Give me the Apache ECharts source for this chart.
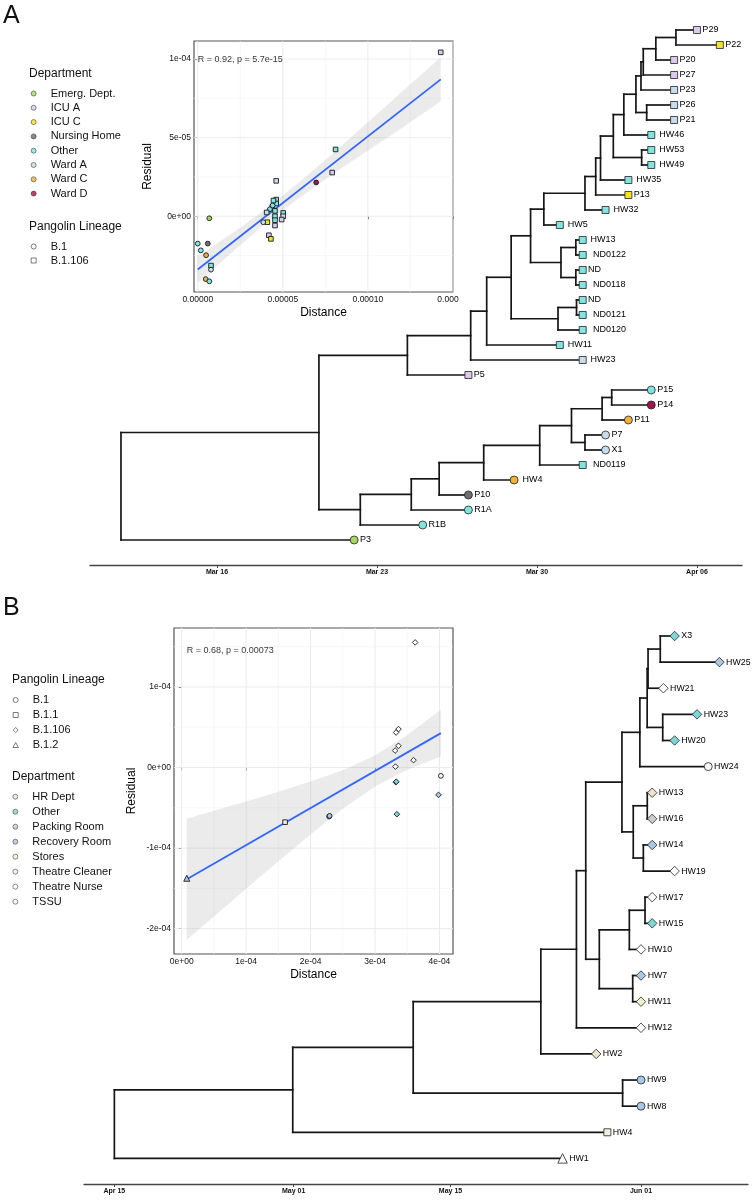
<!DOCTYPE html>
<html><head><meta charset="utf-8">
<script src="https://cdn.jsdelivr.net/npm/echarts@6/dist/echarts.min.js"></script>
<style>html,body{margin:0;padding:0;background:#fff}#c{width:754px;height:1200px}</style>
</head><body><div id="c"></div>
<script>
// ================= DATA: Panel A =================
const tickDaysA = [0, 7, 14, 21];              // days after 16 Mar
const tickLabelsA = ['Mar 16', 'Mar 23', 'Mar 30', 'Apr 06'];
const tipLabelsA = ['P29','P22','P20','P27','P23','P26','P21',' HW46',' HW53',' HW49',' HW35','P13',' HW32',' HW5',' HW13','  ND0122','ND','  ND0118','ND','  ND0121','  ND0120',' HW11',' HW23','P5','P15','P14','P11','P7','X1','  ND0119',' HW4','P10','R1A','R1B','P3'];
const tipDaysA = [21,22,20,20,20,20,20,19,19,19,18,18,17,15,16,16,16,16,16,16,16,15,16,11,19,19,18,17,17,16,13,11,11,9,6];
const tipDeptA = ['ICU A','ICU C','ICU A','ICU A','Ward A','Ward A','Ward A','Other','Other','Other','Other','ICU C','Other','Other','Other','Other','Other','Other','Other','Other','Other','Other','Ward A','ICU A','Other','Ward D','Ward C','Ward A','Ward A','Other','Ward C','Nursing Home','Other','Other','Emerg. Dept.'];
const tipLineageA = ['B.1.106','B.1.106','B.1.106','B.1.106','B.1.106','B.1.106','B.1.106','B.1.106','B.1.106','B.1.106','B.1.106','B.1.106','B.1.106','B.1.106','B.1.106','B.1.106','B.1.106','B.1.106','B.1.106','B.1.106','B.1.106','B.1.106','B.1.106','B.1.106','B.1','B.1','B.1','B.1','B.1','B.1.106','B.1','B.1','B.1','B.1','B.1'];
const nodeNamesA = ['a1','a2','a3','a4','a5','a6','a7','a8','a9','a10','a11','a12','a13','a14','a15','a16','a17','a18','a19','a20','a21','a22','a23','b1','b2','b3','b4','b5','b6','b7','b8','b9','c1','root'];
const nodeChildrenA = [[0,1],['a1',2],['a2',3],['a3',4],[5,6],['a4','a5'],['a6',7],[8,9],['a7','a8'],['a9',10],['a10',11],['a11',12],['a12',13],[14,15],[16,17],['a14','a15'],['a13','a16'],[18,19],['a18',20],['a17','a19'],['a20',21],['a21',22],['a22',23],[24,25],['b1',26],[27,28],['b2','b3'],['b4',29],['b5',30],['b6',31],['b7',32],['b8',33],['a23','b9'],['c1',34]];
const nodeDaysA = [20.08,19.2,18.65,18.55,18.8,18.33,17.8,18.58,17.34,16.78,16.57,16.1,14.3,15.7,15.7,15.05,13.72,15.73,14.92,12.87,11.8,11.1,8.33,17.27,16.85,16.1,15.51,14.12,11.67,9.72,8.5,6.27,4.46,-4.2];

const deptNamesA = ['Emerg. Dept.','ICU A','ICU C','Nursing Home','Other','Ward A','Ward C','Ward D'];
const lineageNamesA = ['B.1','B.1.106'];

const scatterDistA = [1.428e-4,8.1e-5,7.9e-5,6.96e-5,4.61e-5,4.61e-5,4.61e-5,4.38e-5,4.24e-5,4.05e-5,4.54e-5,5.02e-5,5.02e-5,4.93e-5,4.54e-5,4.54e-5,4.54e-5,4.09e-5,3.85e-5,4.18e-5,4.3e-5,6.8e-6,0,5.9e-6,1.8e-6,4.9e-6,7.8e-6,7.8e-6,4.7e-6,6.8e-6,4.4e-5,4.45e-5];
const scatterResA = [1.043e-4,4.25e-5,2.78e-5,2.15e-5,2.25e-5,1.06e-5,8.1e-6,5.9e-6,4.5e-6,2.4e-6,3.4e-6,2.1e-6,0,-2.1e-6,0,-2.5e-6,-5.9e-6,-3.8e-6,-3.8e-6,-1.21e-5,-1.44e-5,-1.3e-6,-1.74e-5,-1.74e-5,-2.17e-5,-2.48e-5,-3.14e-5,-3.4e-5,-4.0e-5,-4.14e-5,6.9e-6,1.0e-5];
const scatterDeptA = ['ICU A','Other','ICU A','Ward D','Ward A','Other','Other','Other','Other','Ward A','Other','Other','Ward A','ICU A','Other','Other','ICU A','ICU C','Ward A','ICU A','ICU C','Emerg. Dept.','Other','Nursing Home','Other','Ward C','Other','Ward A','Ward C','Other','Other','Other'];
const scatterLineageA = ['B.1.106','B.1.106','B.1.106','B.1','B.1.106','B.1.106','B.1.106','B.1.106','B.1','B.1.106','B.1.106','B.1.106','B.1.106','B.1.106','B.1.106','B.1.106','B.1.106','B.1.106','B.1','B.1.106','B.1.106','B.1','B.1','B.1','B.1','B.1','B.1.106','B.1','B.1','B.1','B.1','B.1.106'];
const fitA = [[0, -3.39e-5], [1.428e-4, 8.71e-5]];
const bandXA = [0, 2e-5, 4e-5, 6e-5, 8e-5, 1e-4, 1.2e-4, 1.428e-4];
const bandLowA = [-4.24e-5, -2.3e-5, -4.5e-6, 1.19e-5, 2.74e-5, 4.18e-5, 5.62e-5, 7.31e-5];
const bandHighA = [-2.54e-5, -1.1e-5, 4.5e-6, 2.19e-5, 4.04e-5, 5.98e-5, 7.92e-5, 1.011e-4];
const ticksXA = [0, 5e-5, 1e-4, 1.5e-4];
const tickLabelsXA = ['0.00000', '0.00005', '0.00010', '0.000'];
const ticksYA = [0, 5e-5, 1e-4];
const tickLabelsYA = ['0e+00', '5e-05', '1e-04'];
const minorXA = [2.5e-5, 7.5e-5, 1.25e-4];
const minorYA = [-2.5e-5, 2.5e-5, 7.5e-5];
const annotA = {text: 'R = 0.92, p = 5.7e-15', x: 0, y: 1.0e-4};

// ================= DATA: Panel B =================
const tickDaysB = [0, 16, 30, 47];             // days after 15 Apr
const tickLabelsB = ['Apr 15', 'May 01', 'May 15', 'Jun 01'];
const tipLabelsB = ['X3','HW25','HW21','HW23','HW20','HW24','HW13','HW16','HW14','HW19','HW17','HW15','HW10','HW7','HW11','HW12','HW2','HW9','HW8','HW4','HW1'];
const tipDaysB = [50,54,49,52,50,53,48,48,48,50,48,48,47,47,47,47,43,47,47,44,40];
const tipDeptB = ['Other','Recovery Room','Theatre Nurse','Other','Other','TSSU','HR Dept','Packing Room','Recovery Room','Theatre Nurse','Theatre Nurse','Other','Theatre Nurse','Recovery Room','Stores','Theatre Nurse','HR Dept','Recovery Room','Recovery Room','Theatre Cleaner','Theatre Nurse'];
const tipLineageB = ['B.1.106','B.1.106','B.1.106','B.1.106','B.1.106','B.1','B.1.106','B.1.106','B.1.106','B.1.106','B.1.106','B.1.106','B.1.106','B.1.106','B.1.106','B.1.106','B.1.106','B.1','B.1','B.1.1','B.1.2'];
const nodeNamesB = ['n1','n2','n3','n4','n5','n6','n7','n8','n9','n10','n11','n12','n13','n14','n15','n16','n17','n18','n19','root'];
const nodeChildrenB = [[0,1],['n1',2],[3,4],['n2','n3'],['n4',5],[6,7],[8,9],['n6','n7'],['n5','n8'],[10,11],['n10',12],[13,14],['n11','n12'],['n9','n13'],['n14',15],['n15',16],[17,18],['n16','n17'],['n18',19],['n19',20]];
const nodeDaysB = [48.72,47.63,48.94,47.55,46.9,47.56,47.21,46.31,45.3,47.36,45.96,46.26,43.28,42.07,41.24,38.06,45.36,26.67,15.92,0];

const deptNamesB = ['HR Dept','Other','Packing Room','Recovery Room','Stores','Theatre Cleaner','Theatre Nurse','TSSU'];
const lineageNamesB = ['B.1','B.1.1','B.1.106','B.1.2'];

const scatterDistB = [7.8e-6,1.604e-4,2.287e-4,2.295e-4,3.623e-4,3.364e-4,3.327e-4,3.364e-4,3.312e-4,3.317e-4,3.597e-4,4.022e-4,3.323e-4,3.33e-4,3.985e-4,3.339e-4];
const scatterResB = [-1.374e-4,-6.78e-5,-6.08e-5,-6.0e-5,1.553e-4,4.77e-5,4.35e-5,2.7e-5,2.11e-5,1.2e-6,9.2e-6,-1.03e-5,-1.82e-5,-1.76e-5,-3.39e-5,-5.79e-5];
const scatterDeptB = ['Recovery Room','Theatre Cleaner','Recovery Room','Recovery Room','Theatre Nurse','Theatre Nurse','Theatre Nurse','Theatre Nurse','Theatre Nurse','Theatre Nurse','Theatre Nurse','TSSU','Other','Other','Recovery Room','Other'];
const scatterLineageB = ['B.1.2','B.1.1','B.1','B.1','B.1.106','B.1.106','B.1.106','B.1.106','B.1.106','B.1.106','B.1.106','B.1','B.1.106','B.1.106','B.1.106','B.1.106'];
const fitB = [[7.8e-6, -1.386e-4], [4.022e-4, 4.27e-5]];
const bandXB = [7.8e-6, 5e-5, 1e-4, 1.5e-4, 2e-4, 2.5e-4, 3e-4, 3.5e-4, 4.022e-4];
const bandLowB = [-2.136e-4, -1.849e-4, -1.504e-4, -1.164e-4, -8.3e-5, -5.12e-5, -2.35e-5, -2.7e-6, 1.37e-5];
const bandHighB = [-6.36e-5, -5.35e-5, -4.2e-5, -3.0e-5, -1.74e-5, -3.2e-6, 1.51e-5, 4.03e-5, 7.17e-5];
const ticksXB = [0, 1e-4, 2e-4, 3e-4, 4e-4];
const tickLabelsXB = ['0e+00', '1e-04', '2e-04', '3e-04', '4e-04'];
const ticksYB = [-2e-4, -1e-4, 0, 1e-4];
const tickLabelsYB = ['-2e-04', '-1e-04', '0e+00', '1e-04'];
const minorXB = [5e-5, 1.5e-4, 2.5e-4, 3.5e-4];
const minorYB = [-1.5e-4, -5e-5, 5e-5, 1.5e-4];
const annotB = {text: 'R = 0.68, p = 0.00073', x: 7.8e-6, y: 1.453e-4};

// ================= STYLE =================
const FONT = 'Liberation Sans';
const deptColorA = {'Emerg. Dept.':'#A5D75F','ICU A':'#DCCAEC','ICU C':'#F3E421','Nursing Home':'#6F6F6F','Other':'#82E4E0','Ward A':'#C8DCEC','Ward C':'#F0B23C','Ward D':'#A3134F'};
const deptColorB = {'HR Dept':'#ECE3CB','Other':'#7ED6D6','Packing Room':'#CDCDCD','Recovery Room':'#A9C8E6','Stores':'#EEF1CE','Theatre Cleaner':'#F1EDE0','Theatre Nurse':'#FFFFFF','TSSU':'#F7F7F7'};
const shapeOf = {'B.1':'circle','B.1.1':'rect','B.1.106':'rect','B.1.2':'triangle'};
const shapeOfB = {'B.1':'circle','B.1.1':'rect','B.1.106':'diamond','B.1.2':'triangle'};
const iconOf = {
  circle: 'circle',
  rect: 'path://M0,0L10,0L10,10L0,10Z',
  diamond: 'path://M5,0L10,5L5,10L0,5Z',
  triangle: 'path://M5,0L10,9L0,9Z'
};
const treeSize = {circle: 8, rect: 7, diamond: 9.5, triangle: 9.5};
const insetSize = {circle: 4.8, rect: 4.6, diamond: 5.6, triangle: 6};

// ================= HELPERS =================
function layoutTree(tipDays, nodeNames, nodeChildren, nodeDays) {
  const pos = {};
  tipDays.forEach((d, i) => { pos[i] = [d, i]; });
  const segs = [];
  nodeNames.forEach((nm, k) => {
    const ch = nodeChildren[k].map(c => pos[c]);
    const x = nodeDays[k];
    const ys = ch.map(p => p[1]);
    pos[nm] = [x, ys.reduce((a, b) => a + b, 0) / ys.length];
    segs.push([x, Math.min(...ys), x, Math.max(...ys)]);
    ch.forEach(p => segs.push([x, p[1], p[0], p[1]]));
  });
  return segs;
}
function edgeSeries(segs, gi) {
  return {
    type: 'custom', xAxisIndex: gi, yAxisIndex: gi, data: segs, silent: true, z: 2,
    encode: {x: [0, 2], y: [1, 3]},
    renderItem(params, api) {
      const p1 = api.coord([api.value(0), api.value(1)]);
      const p2 = api.coord([api.value(2), api.value(3)]);
      return {type: 'line', shape: {x1: p1[0], y1: p1[1], x2: p2[0], y2: p2[1]},
        style: {stroke: '#161616', lineWidth: 1.7, lineCap: 'square'}};
    }
  };
}
function tipSeries(labels, days, depts, lins, palette, shapes, gi, fs) {
  return {
    type: 'scatter', xAxisIndex: gi, yAxisIndex: gi, z: 4, silent: true,
    data: labels.map((lab, i) => {
      const sh = shapes[lins[i]];
      return {name: lab, value: [days[i], i], symbol: sh, symbolSize: treeSize[sh],
        itemStyle: {color: palette[depts[i]], borderColor: '#222', borderWidth: 0.8, opacity: 1}};
    }),
    label: {show: true, position: 'right', distance: 1.5, formatter: p => p.name,
      fontFamily: FONT, fontSize: fs, color: '#000'}
  };
}
function dateAxis(gi, min, max, ticks, labels) {
  return {
    gridIndex: gi, type: 'value', min, max,
    axisLine: {show: true, onZero: false, lineStyle: {color: '#444', width: 1.3}},
    axisTick: {show: true, customValues: ticks, length: 3, lineStyle: {color: '#444', width: 1}},
    axisLabel: {customValues: ticks, margin: 4, fontFamily: FONT, fontSize: 7, fontWeight: 'bold', color: '#111',
      formatter: v => labels[ticks.findIndex(t => Math.abs(t - v) < 1e-9)]},
    splitLine: {show: false}
  };
}
function findLabel(ticks, labels, v) {
  const i = ticks.findIndex(t => Math.abs(t - v) < 1e-12);
  return i < 0 ? '' : labels[i];
}
function insetAxis(gi, min, max, ticks, labels, name, gap, clipLast) {
  return {
    gridIndex: gi, type: 'value', min, max,
    axisLine: {show: false},
    axisTick: {show: true, customValues: ticks, length: 3, lineStyle: {color: '#333', width: 1}},
    axisLabel: {customValues: ticks, margin: 3, fontFamily: FONT, fontSize: 8.5, color: '#111',
      formatter: v => {
        const s = findLabel(ticks, labels, v);
        return (clipLast && Math.abs(v - ticks[ticks.length - 1]) < 1e-12) ? '{c|' + s + '}' : s;
      },
      rich: {c: {fontFamily: FONT, fontSize: 8.5, color: '#111', padding: [0, 10, 0, 0]}}},
    splitLine: {show: false},
    name, nameLocation: 'middle', nameGap: gap,
    nameTextStyle: {fontFamily: FONT, fontSize: 12, color: '#000'}
  };
}
function gridLineSeries(gi, majX, minX, majY, minY) {
  const data = [];
  majX.forEach(v => data.push([v, 0, 1]));
  minX.forEach(v => data.push([v, 0, 0]));
  majY.forEach(v => data.push([v, 1, 1]));
  minY.forEach(v => data.push([v, 1, 0]));
  return {
    type: 'custom', xAxisIndex: gi, yAxisIndex: gi, data, silent: true, z: 1,
    renderItem(params, api) {
      const cs = params.coordSys;
      const v = api.value(0), dir = api.value(1), major = api.value(2);
      let shape;
      if (dir === 0) {
        const px = api.coord([v, 0])[0];
        shape = {x1: px, y1: cs.y, x2: px, y2: cs.y + cs.height};
      } else {
        const py = api.coord([0, v])[1];
        shape = {x1: cs.x, y1: py, x2: cs.x + cs.width, y2: py};
      }
      return {type: 'line', shape, style: {stroke: major ? '#EBEBEB' : '#F4F4F4', lineWidth: major ? 1 : 0.6}};
    }
  };
}
function bandSeries(gi, xs, lo, hi) {
  return {
    type: 'custom', xAxisIndex: gi, yAxisIndex: gi, data: [[xs[0], lo[0]]], silent: true, z: 2,
    renderItem(params, api) {
      const pts = [];
      xs.forEach((x, i) => pts.push(api.coord([x, hi[i]])));
      for (let i = xs.length - 1; i >= 0; i--) pts.push(api.coord([xs[i], lo[i]]));
      return {type: 'polygon', shape: {points: pts}, style: {fill: 'rgba(153,153,153,0.2)'}};
    }
  };
}
function fitSeries(gi, fit) {
  return {type: 'line', xAxisIndex: gi, yAxisIndex: gi, data: fit, symbol: 'none', silent: true, z: 3,
    lineStyle: {color: '#3366FF', width: 1.8}};
}
function pointSeries(gi, xs, ys, depts, lins, palette, shapes) {
  return {
    type: 'scatter', xAxisIndex: gi, yAxisIndex: gi, silent: true, z: 4,
    data: xs.map((x, i) => {
      const sh = shapes[lins[i]];
      return {value: [x, ys[i]], symbol: sh, symbolSize: insetSize[sh],
        itemStyle: {color: palette[depts[i]], borderColor: '#1a1a1a', borderWidth: 0.9, opacity: 1}};
    })
  };
}
function annotSeries(gi, a) {
  return {type: 'scatter', xAxisIndex: gi, yAxisIndex: gi, silent: true, z: 5, symbolSize: 0,
    data: [[a.x, a.y]],
    label: {show: true, position: 'right', distance: 0, formatter: a.text,
      fontFamily: FONT, fontSize: 9, color: '#000'}};
}
function legendBlock(names, left, top, gap, styleOf) {
  return {
    orient: 'vertical', left, top, padding: 0, itemGap: gap, itemWidth: 24, itemHeight: 5,
    selectedMode: false, symbolKeepAspect: true,
    textStyle: {fontFamily: FONT, fontSize: 11, color: '#111', lineHeight: 11},
    data: names.map(n => Object.assign({name: n}, styleOf(n)))
  };
}
function titleText(text, left, top, fs) {
  return {text, left, top, padding: 0,
    textStyle: {fontFamily: FONT, fontSize: fs, fontWeight: 'normal', color: '#111', lineHeight: fs}};
}

// ================= BUILD =================
const segsA = layoutTree(tipDaysA, nodeNamesA, nodeChildrenA, nodeDaysA);
const segsB = layoutTree(tipDaysB, nodeNamesB, nodeChildrenB, nodeDaysB);

const allLegendNames = Array.from(new Set([...deptNamesA, ...deptNamesB, ...lineageNamesA, ...lineageNamesB]));
const dummySeries = allLegendNames.map(n => ({name: n, type: 'scatter', xAxisIndex: 0, yAxisIndex: 0, data: []}));

const deptStyle = pal => n => ({icon: 'circle', itemStyle: {color: pal[n], borderColor: '#333', borderWidth: 0.7}});
const linStyle = shapes => n => ({icon: iconOf[shapes[n]], itemStyle: {color: '#fff', borderColor: '#333', borderWidth: 0.8}});

const option = {
  animation: false,
  backgroundColor: '#fff',
  textStyle: {fontFamily: FONT},
  title: [
    titleText('A', 3, 4, 25),
    titleText('Department', 29, 68, 12),
    titleText('Pangolin Lineage', 29, 221, 12),
    titleText('B', 3, 596, 25),
    titleText('Pangolin Lineage', 12, 674, 12),
    titleText('Department', 12, 771, 12)
  ],
  legend: [
    legendBlock(deptNamesA, 30.8, 88, 3.3, deptStyle(deptColorA)),
    legendBlock(lineageNamesA, 30.8, 241, 3, linStyle(shapeOf)),
    legendBlock(lineageNamesB, 12.5, 694.5, 4, linStyle(shapeOfB)),
    legendBlock(deptNamesB, 12.5, 791.2, 4, deptStyle(deptColorB))
  ],
  grid: [
    {left: 90, top: 30, width: 652, height: 535},
    {left: 84, top: 636, width: 664, height: 548},
    {left: 194, top: 41, width: 259, height: 251, show: true, backgroundColor: '#fff', borderColor: '#555', borderWidth: 1.2},
    {left: 174, top: 628, width: 279, height: 326, show: true, backgroundColor: '#fff', borderColor: '#555', borderWidth: 1.2}
  ],
  xAxis: [
    dateAxis(0, -5.556, 22.97, tickDaysA, tickLabelsA),
    dateAxis(1, -2.71, 56.55, tickDaysB, tickLabelsB),
    insetAxis(2, -2.2e-6, 1.5e-4, ticksXA, tickLabelsXA, 'Distance', 15, true),
    insetAxis(3, -1.2e-5, 4.21e-4, ticksXB, tickLabelsXB, 'Distance', 15, false)
  ],
  yAxis: [
    {gridIndex: 0, type: 'value', min: 0, max: 35.667, inverse: true, show: false},
    {gridIndex: 1, type: 'value', min: 0, max: 20.98, inverse: true, show: false},
    insetAxis(2, -4.82e-5, 1.115e-4, ticksYA, tickLabelsYA, 'Residual', 40, false),
    insetAxis(3, -2.314e-4, 1.732e-4, ticksYB, tickLabelsYB, 'Residual', 36, false)
  ],
  series: [
    ...dummySeries,
    edgeSeries(segsA, 0),
    tipSeries(tipLabelsA, tipDaysA, tipDeptA, tipLineageA, deptColorA, shapeOf, 0, 9),
    edgeSeries(segsB, 1),
    tipSeries(tipLabelsB, tipDaysB, tipDeptB, tipLineageB, deptColorB, shapeOfB, 1, 8.8),
    gridLineSeries(2, ticksXA, minorXA, ticksYA, minorYA),
    bandSeries(2, bandXA, bandLowA, bandHighA),
    fitSeries(2, fitA),
    pointSeries(2, scatterDistA, scatterResA, scatterDeptA, scatterLineageA, deptColorA, shapeOf),
    annotSeries(2, annotA),
    gridLineSeries(3, ticksXB, minorXB, ticksYB, minorYB),
    bandSeries(3, bandXB, bandLowB, bandHighB),
    fitSeries(3, fitB),
    pointSeries(3, scatterDistB, scatterResB, scatterDeptB, scatterLineageB, deptColorB, shapeOfB),
    annotSeries(3, annotB)
  ]
};
const chart = echarts.init(document.getElementById('c'), null, {renderer: 'canvas'});
chart.setOption(option);
</script></body></html>
